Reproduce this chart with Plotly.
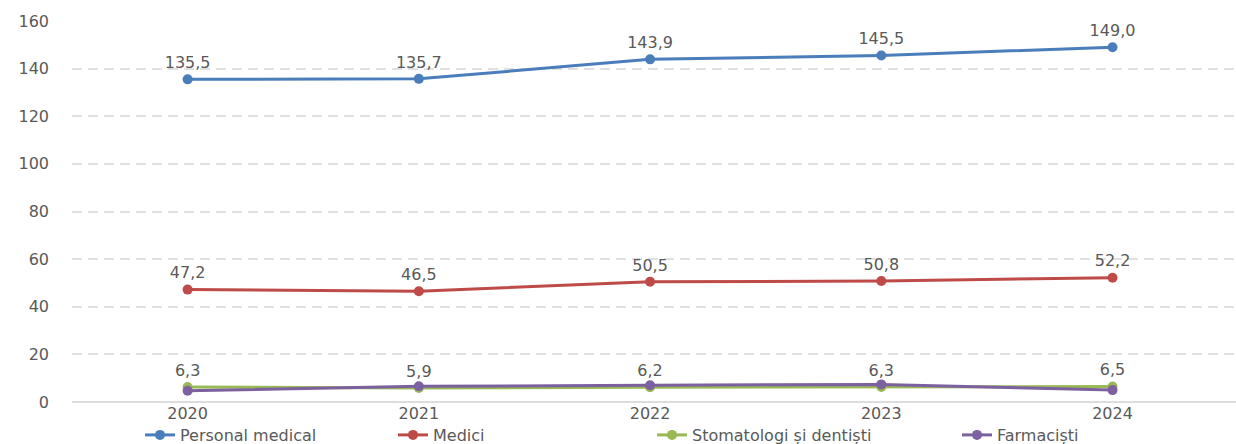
import plotly.graph_objects as go

years = ["2020", "2021", "2022", "2023", "2024"]
personal_medical = [135.5, 135.7, 143.9, 145.5, 149.0]
medici = [47.2, 46.5, 50.5, 50.8, 52.2]
stomatologi = [6.3, 5.9, 6.2, 6.3, 6.5]
farmacisti = [4.7, 6.6, 7.0, 7.4, 5.0]

series = [
    ("Personal medical", personal_medical, "#4A7EBB", True, "legend", 180),
    ("Medici", medici, "#BE4B48", True, "legend2", 433),
    ("Stomatologi și dentiști", stomatologi, "#98B954", True, "legend3", 692),
    ("Farmaciști", farmacisti, "#7D60A0", False, "legend4", 997),
]

FONT = "DejaVu Sans"
GRAY = "#595959"

fig = go.Figure()
for name, vals, color, labels, lg, _ in series:
    fig.add_trace(go.Scatter(
        x=years, y=vals, name=name, legend=lg, showlegend=True,
        mode="lines+markers+text" if labels else "lines+markers",
        line=dict(color=color, width=3),
        marker=dict(color=color, size=10),
        texttemplate="%{y:.1f}" if labels else None,
        textposition="top center",
        textfont=dict(family=FONT, size=16, color=GRAY),
        cliponaxis=False,
    ))

layout_legends = {}
for i, (name, vals, color, labels, lg, tx) in enumerate(series):
    layout_legends[lg] = dict(
        visible=True,
        orientation="h", xref="container", yref="container",
        x=(tx - 40) / 1236, y=1 - 435 / 444, xanchor="left", yanchor="middle",
        font=dict(family=FONT, size=16, color=GRAY),
        bgcolor="rgba(0,0,0,0)", itemclick=False,
    )

fig.update_layout(
    width=1236, height=444,
    showlegend=True,
    margin=dict(l=72, r=0, t=21, b=42, autoexpand=False),
    paper_bgcolor="white", plot_bgcolor="white",
    separators=",.",
    font=dict(family=FONT, size=16, color=GRAY),
    xaxis=dict(
        type="category", range=[-0.5, 4.534], automargin=False,
        showgrid=False, showline=False, zeroline=False,
        ticks="", tickfont=dict(family=FONT, size=16, color=GRAY),
    ),
    yaxis=dict(
        range=[0, 160], dtick=20, automargin=False,
        showgrid=True, gridcolor="#E0E0E0", griddash="10px,6px", gridwidth=1.5,
        zeroline=True, zerolinecolor="#DDDDDD", zerolinewidth=1.5,
        showline=False, ticks="", ticklabelstandoff=22,
        tickfont=dict(family=FONT, size=16, color=GRAY),
    ),
    **layout_legends,
)

fig.write_html("out.html")
